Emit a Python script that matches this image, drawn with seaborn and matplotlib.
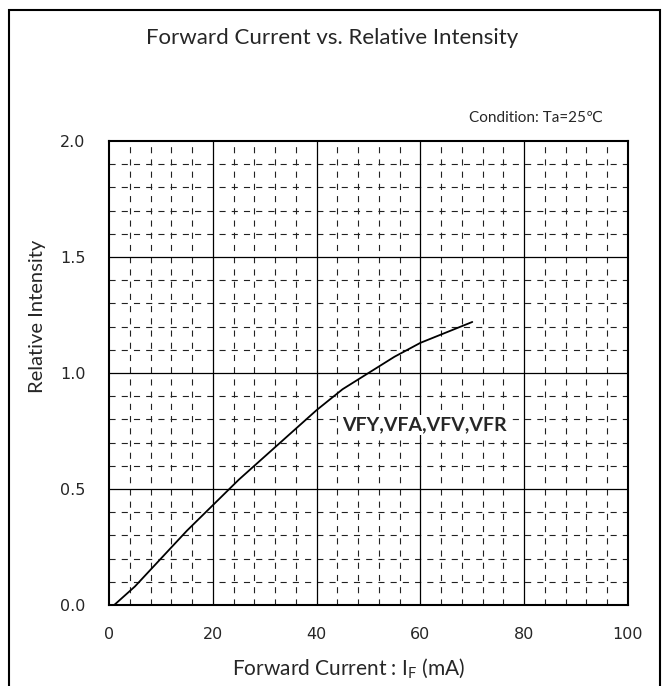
import matplotlib
matplotlib.use("Agg")
import matplotlib.pyplot as plt
import matplotlib.patches as mpatches
import seaborn as sns
import pandas as pd
import numpy as np

# ---- data ----
current_mA = [1, 5, 10, 15, 20, 25, 30, 35, 40, 45, 50, 55, 60, 65, 70]
rel_intensity = [0.0, 0.08, 0.20, 0.32, 0.43, 0.54, 0.64, 0.74, 0.84, 0.93, 1.00, 1.07, 1.13, 1.175, 1.22]
x_ticks = [0, 20, 40, 60, 80, 100]
y_ticks = [0.0, 0.5, 1.0, 1.5, 2.0]
y_tick_labels = ["0.0", "0.5", "1.0", "1.5", "2.0"]
series_label = "VFY,VFA,VFV,VFR"

sns.set_style("white")
plt.rcParams['font.family'] = ['Lato', 'DejaVu Sans']

df = pd.DataFrame({"I": current_mA, "R": rel_intensity})

fig = plt.figure(figsize=(6.65, 6.86), dpi=100)
ax = fig.add_axes([109/665, 1-605/686, (628-109)/665, (605-141)/686])

# grid: minor dashed
for xv in np.arange(4, 100, 4):
    if xv % 20 != 0:
        ax.axvline(xv, color='#222222', lw=0.8, dashes=(5.5, 5.5), zorder=1)
for k in range(1, 20):
    if k % 5 != 0:
        ax.axhline(k / 10, color='#222222', lw=0.8, dashes=(5.5, 5.5), zorder=1)
for xv in [20, 40, 60, 80]:
    ax.axvline(xv, color='black', lw=0.9, zorder=1.5)
for yv in [0.5, 1.0, 1.5]:
    ax.axhline(yv, color='black', lw=0.9, zorder=1.5)

sns.lineplot(data=df, x="I", y="R", ax=ax, color='black', lw=1.3, zorder=3)

ax.set_xlim(0, 100)
ax.set_ylim(0, 2.0)
ax.set_xticks(x_ticks)
ax.set_yticks(y_ticks)
ax.set_yticklabels(y_tick_labels)
narrow = ['Liberation Sans Narrow', 'DejaVu Sans']
for lab in ax.get_xticklabels() + ax.get_yticklabels():
    lab.set_family(narrow)
    lab.set_fontsize(11.5)
ax.tick_params(axis='x', length=0, pad=16)
ax.tick_params(axis='y', length=0, pad=17)
for s in ax.spines.values():
    s.set_linewidth(1.5)
    s.set_color('black')

ax.set_xlabel("Forward Current : I$_\\mathregular{F}$ (mA)", fontsize=15, labelpad=9)
ax.xaxis.set_label_coords(0.462, -0.112)
ax.set_ylabel("Relative Intensity", fontsize=14.5)
ax.yaxis.set_label_coords(-0.121, 0.623)

ax.text(45.0, 0.775, series_label, fontsize=14, fontweight='bold', va='center', ha='left',
        bbox=dict(facecolor='white', edgecolor='none', pad=1), zorder=4)

fig.text(0.5, 1-38/686, "Forward Current vs. Relative Intensity", ha='center', va='center', fontsize=16)
fig.text(603/665, 1-118/686, "Condition: Ta=25\u2103", ha='right', va='center', fontsize=11,
         family=['Lato', 'DejaVu Sans'])

rect = mpatches.Rectangle((9/665, -0.05), (660-9)/665, 1.05-10/686, transform=fig.transFigure,
                          fill=False, edgecolor='black', lw=1.5)
fig.patches.append(rect)

fig.savefig("out.png", dpi=100)
